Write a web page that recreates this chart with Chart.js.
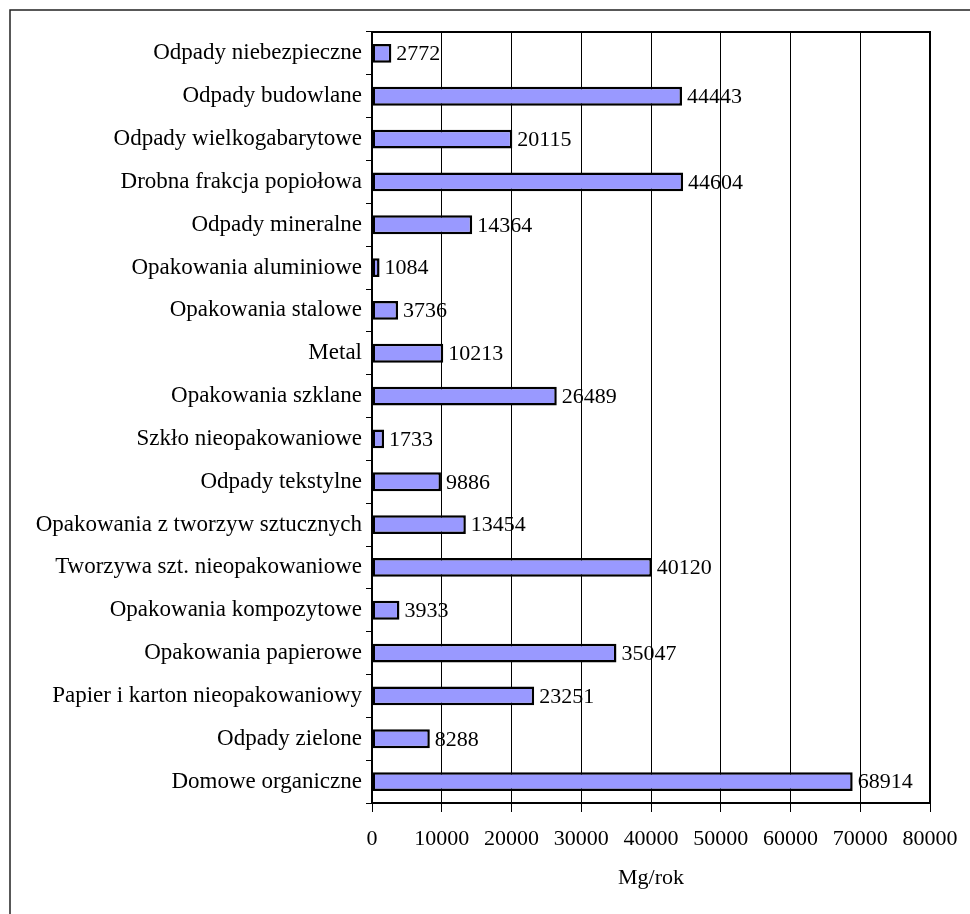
<!DOCTYPE html>
<html>
<head>
<meta charset="utf-8">
<script src="https://cdn.jsdelivr.net/npm/chart.js@4.4.0/dist/chart.umd.min.js"></script>
<style>
  body { margin: 0; background: #fff; }
  #wrap { width: 970px; height: 914px; }
</style>
</head>
<body>
<div id="wrap"><canvas id="myChart" width="970" height="914"></canvas></div>
<script>
// Waste streams, Mg per year
const categories = [
  'Odpady niebezpieczne',
  'Odpady budowlane',
  'Odpady wielkogabarytowe',
  'Drobna frakcja popiołowa',
  'Odpady mineralne',
  'Opakowania aluminiowe',
  'Opakowania stalowe',
  'Metal',
  'Opakowania szklane',
  'Szkło nieopakowaniowe',
  'Odpady tekstylne',
  'Opakowania z tworzyw sztucznych',
  'Tworzywa szt. nieopakowaniowe',
  'Opakowania kompozytowe',
  'Opakowania papierowe',
  'Papier i karton nieopakowaniowy',
  'Odpady zielone',
  'Domowe organiczne'
];
const values = [
  2772, 44443, 20115, 44604, 14364, 1084, 3736, 10213, 26489,
  1733, 9886, 13454, 40120, 3933, 35047, 23251, 8288, 68914
];
const xTicks = [0, 10000, 20000, 30000, 40000, 50000, 60000, 70000, 80000];
const axisTitle = 'Mg/rok';

const family = '"Liberation Serif", "Times New Roman", serif';
const labelFont = { family: family, size: 23 };
const numFont = { family: family, size: 22 };

// outer frame (left and top edges only show)
const framePlugin = {
  id: 'frame',
  beforeDraw(chart) {
    const c = chart.ctx;
    c.save();
    c.strokeStyle = '#222';
    c.lineWidth = 1.5;
    c.beginPath();
    c.moveTo(10, 914);
    c.lineTo(10, 10);
    c.lineTo(970, 10);
    c.stroke();
    c.restore();
  }
};

// box around the plot area
const boxPlugin = {
  id: 'box',
  afterDraw(chart) {
    const a = chart.chartArea;
    const c = chart.ctx;
    c.save();
    c.strokeStyle = '#000';
    c.lineWidth = 2;
    c.strokeRect(a.left, a.top, a.right - a.left, a.bottom - a.top);
    c.restore();
  }
};

// value printed right of each bar
const valuePlugin = {
  id: 'values',
  afterDatasetsDraw(chart) {
    const c = chart.ctx;
    const meta = chart.getDatasetMeta(0);
    c.save();
    c.font = numFont.size + 'px ' + numFont.family;
    c.fillStyle = '#000';
    c.textAlign = 'left';
    c.textBaseline = 'middle';
    meta.data.forEach(function(bar, i) {
      c.fillText(String(values[i]), bar.x + 5, bar.y + 1);
    });
    c.restore();
  }
};

const ctx = document.getElementById('myChart').getContext('2d');

const chart = new Chart(ctx, {
  type: 'bar',
  data: {
    labels: categories,
    datasets: [{
      data: values,
      backgroundColor: '#9999FF',
      borderColor: '#000',
      borderWidth: 2.5,
      borderSkipped: false,
      categoryPercentage: 1,
      barPercentage: 0.44
    }]
  },
  options: {
    indexAxis: 'y',
    responsive: false,
    animation: false,
    layout: { padding: { left: 0, top: 32, right: 40, bottom: 0 } },
    plugins: {
      legend: { display: false },
      tooltip: { enabled: false }
    },
    scales: {
      x: {
        min: 0,
        max: 80000,
        afterBuildTicks(s) { s.ticks = xTicks.map(v => ({ value: v })); },
        afterFit(s) {
          s.height = 111;
          s.paddingLeft = 0;
          s.paddingRight = 0;
        },
        ticks: {
          color: '#000',
          font: numFont,
          padding: 14,
          maxRotation: 0,
          callback: v => String(v)
        },
        grid: { color: '#000', lineWidth: 1, tickLength: 9, tickColor: '#000' },
        border: { color: '#000', width: 2 },
        title: {
          display: true,
          text: axisTitle,
          color: '#000',
          font: numFont,
          padding: { top: 10, bottom: 23 }
        }
      },
      y: {
        afterFit(s) { s.width = 372; },
        ticks: { color: '#000', font: labelFont, padding: 4 },
        grid: {
          drawOnChartArea: false,
          offset: true,
          tickLength: 6,
          tickColor: '#000',
          tickWidth: 1
        },
        border: { color: '#000', width: 2 }
      }
    }
  },
  plugins: [framePlugin, boxPlugin, valuePlugin]
});
</script>
</body>
</html>
